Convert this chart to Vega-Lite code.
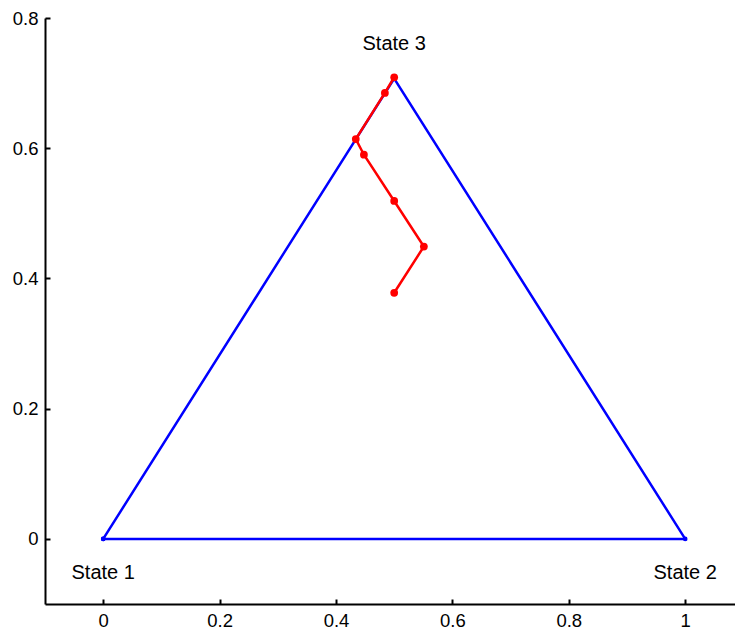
{
  "$schema": "https://vega.github.io/schema/vega-lite/v6.json",
  "autosize": "none",
  "width": 690,
  "height": 586,
  "padding": {"left": 45, "top": 18, "right": 0, "bottom": 28},
  "background": "white",
  "config": {
    "view": {"stroke": null},
    "axis": {
      "grid": false,
      "domainColor": "black",
      "domainWidth": 2,
      "tickColor": "black",
      "tickWidth": 2,
      "tickSize": -5,
      "labelPadding": 12,
      "labelFont": "Liberation Sans",
      "labelFontSize": 18.5,
      "labelColor": "black",
      "title": null
    }
  },
  "datasets": {
    "tri": [
      {"order": 1, "x": 0, "y": 0},
      {"order": 2, "x": 1, "y": 0},
      {"order": 3, "x": 0.5, "y": 0.7071},
      {"order": 4, "x": 0, "y": 0}
    ],
    "path": [
      {"order": 1, "x": 0.5, "y": 0.378},
      {"order": 2, "x": 0.551, "y": 0.449},
      {"order": 3, "x": 0.5, "y": 0.519},
      {"order": 4, "x": 0.448, "y": 0.590},
      {"order": 5, "x": 0.434, "y": 0.614},
      {"order": 6, "x": 0.484, "y": 0.685},
      {"order": 7, "x": 0.5, "y": 0.709}
    ],
    "labels": [
      {"x": 0.5, "y": 0.760, "label": "State 3"},
      {"x": 0.0, "y": -0.052, "label": "State 1"},
      {"x": 1.0, "y": -0.052, "label": "State 2"}
    ]
  },
  "layer": [
    {
      "data": {"name": "tri"},
      "mark": {"type": "line", "color": "#0000ff", "strokeWidth": 2.5, "point": {"filled": true, "color": "#0000ff", "size": 22}},
      "encoding": {
        "x": {"field": "x", "type": "quantitative", "scale": {"domain": [-0.1, 1.0856], "nice": false, "zero": false},
              "axis": {"values": [0, 0.2, 0.4, 0.6, 0.8, 1], "format": "~g"}},
        "y": {"field": "y", "type": "quantitative", "scale": {"domain": [-0.1, 0.8], "nice": false, "zero": false},
              "axis": {"values": [0, 0.2, 0.4, 0.6, 0.8], "format": "~g"}},
        "order": {"field": "order", "type": "quantitative"}
      }
    },
    {
      "data": {"name": "path"},
      "mark": {"type": "line", "color": "#ff0000", "strokeWidth": 2.5, "point": {"filled": true, "color": "#ff0000", "size": 60, "opacity": 1}},
      "encoding": {
        "x": {"field": "x", "type": "quantitative"},
        "y": {"field": "y", "type": "quantitative"},
        "order": {"field": "order", "type": "quantitative"}
      }
    },
    {
      "data": {"name": "labels"},
      "mark": {"type": "text", "font": "Liberation Sans", "fontSize": 20, "color": "black", "align": "center", "baseline": "middle"},
      "encoding": {
        "x": {"field": "x", "type": "quantitative"},
        "y": {"field": "y", "type": "quantitative"},
        "text": {"field": "label"}
      }
    }
  ]
}
